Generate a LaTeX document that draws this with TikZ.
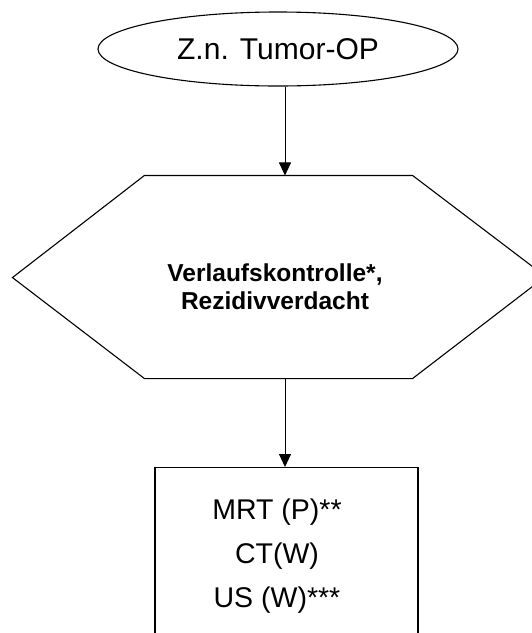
\documentclass[tikz,border=0pt]{standalone}
\usepackage{fontspec}
\setmainfont{Liberation Sans}
\usetikzlibrary{shapes.geometric,arrows.meta}
\begin{document}
\begin{tikzpicture}[x=1pt,y=-1pt,
  line width=1.1pt,
  ellbox/.style={draw, ellipse, minimum width=360pt, minimum height=74pt, inner sep=0pt, font=\fontsize{30}{36}\selectfont},
  hexholder/.style={minimum width=267pt, minimum height=202pt, inner sep=0pt},
  hextext/.style={align=center, font=\fontsize{24.5}{28}\selectfont\bfseries},
  boxshape/.style={draw, rectangle, minimum width=263pt, minimum height=300pt, inner sep=0pt, anchor=north},
  boxtext/.style={anchor=base, font=\fontsize{28.5}{34}\selectfont},
  arr/.style={-{Triangle[length=13pt,width=12pt]}, line width=1pt}]
\clip (0,0) rectangle (532,633);
\fill[white] (0,0) rectangle (532,633);
\node[ellbox] (ell) at (278,49) {Z.n. Tumor-OP};
\node[hexholder] (hex) at (278.5,277) {};
\draw (hex.north west) -- (hex.north east) -- ++(133,101) -- (hex.south east) -- (hex.south west) -- ++(-132,-101) -- cycle;
\node[hextext] (vk) at (275,286.5) {Verlaufskontrolle*,\\Rezidivverdacht};
\node[boxshape] (box) at (286.5,467) {};
\node[boxtext] (t1) at (277,519) {MRT (P)**};
\node[boxtext] (t2) at (277,563) {CT(W)};
\node[boxtext] (t3) at (277,607) {US (W)***};
\coordinate (ax) at (285,0);
\draw[arr] (ell.south -| ax) -- (hex.north -| ax);
\draw[arr] (hex.south -| ax) -- (box.north -| ax);
\end{tikzpicture}
\end{document}
